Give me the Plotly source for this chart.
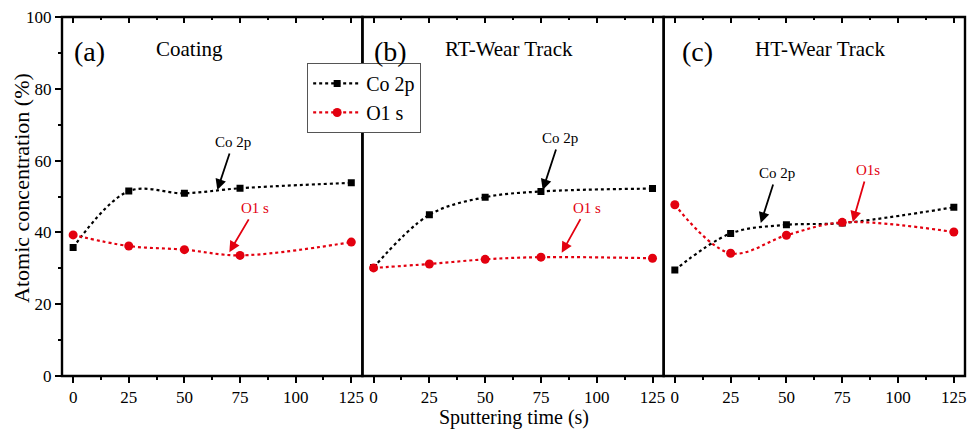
import plotly.graph_objects as go

# Sputtering times (s)
time_s = [0, 25, 50, 75, 125]

# Atomic concentration (%) per region
coating_co = [35.8, 51.5, 50.9, 52.3, 53.8]
coating_o = [39.3, 36.2, 35.2, 33.6, 37.3]
rt_co = [30.2, 44.9, 49.8, 51.4, 52.2]
rt_o = [30.1, 31.2, 32.5, 33.1, 32.8]
ht_co = [29.5, 39.7, 42.1, 42.6, 47.0]
ht_o = [47.7, 34.2, 39.2, 42.8, 40.1]

panel_tags = ["(a)", "(b)", "(c)"]
panel_titles = ["Coating", "RT-Wear Track", "HT-Wear Track"]
x_ticks = [0, 25, 50, 75, 100, 125]
y_ticks = [0, 20, 40, 60, 80, 100]

FONT = "Liberation Serif"
RED = "#e3000f"

domains = [[0.0, 0.3327], [0.3327, 0.6663], [0.6663, 1.0]]
panels = [(coating_co, coating_o), (rt_co, rt_o), (ht_co, ht_o)]

fig = go.Figure()

for i, (co, o) in enumerate(panels):
    xa = "x" if i == 0 else f"x{i + 1}"
    fig.add_trace(go.Scatter(
        x=time_s, y=co, xaxis=xa, yaxis="y", name="Co 2p",
        legendgroup="co", showlegend=(i == 0),
        mode="lines+markers", line=dict(color="black", width=2.2, dash="dot", shape="spline", smoothing=1.0),
        marker=dict(symbol="square", size=7, color="black"),
    ))
    fig.add_trace(go.Scatter(
        x=time_s, y=o, xaxis=xa, yaxis="y", name="O1 s",
        legendgroup="o", showlegend=(i == 0),
        mode="lines+markers", line=dict(color=RED, width=2.2, dash="dot", shape="spline", smoothing=1.0),
        marker=dict(symbol="circle", size=9, color=RED),
    ))
    # invisible trace so the top tick axis gets its own subplot
    fig.add_trace(go.Scatter(
        x=[None], y=[None], xaxis=f"x{i + 4}", yaxis="y", showlegend=False, hoverinfo="skip",
    ))

axis_common = dict(
    range=[-5, 130], tickvals=x_ticks, showgrid=False, zeroline=False, automargin=False,
    tickfont=dict(family=FONT, size=17, color="black"),
    ticklen=6, tickwidth=1.5, tickcolor="black",
    minor=dict(dtick=12.5, tick0=0, ticklen=3, tickwidth=1.5, tickcolor="black", ticks="outside"),
)

layout = dict(
    width=977, height=429,
    margin=dict(l=62, r=12, t=17, b=53),
    paper_bgcolor="white", plot_bgcolor="white",
    font=dict(family=FONT, color="black"),
    yaxis=dict(
        range=[0, 100], tickvals=y_ticks, showgrid=False, zeroline=False, automargin=False,
        ticks="outside", ticklen=6, tickwidth=1.5, tickcolor="black",
        minor=dict(dtick=10, tick0=0, ticklen=3, tickwidth=1.5, tickcolor="black", ticks="outside"),
        tickfont=dict(family=FONT, size=17, color="black"),
        showline=False, anchor="x",
    ),
    legend=dict(
        x=0.2715, y=0.872, xanchor="left", yanchor="top",
        bgcolor="white", bordercolor="#555555", borderwidth=1,
        font=dict(family=FONT, size=20, color="black"),
        itemwidth=48, tracegroupgap=0,
    ),
    showlegend=True,
)

for i in range(3):
    key = "xaxis" if i == 0 else f"xaxis{i + 1}"
    layout[key] = dict(axis_common, domain=domains[i], anchor="y", ticks="outside", side="bottom")
    top = dict(axis_common, anchor="y", ticks="inside", side="top", overlaying=("x" if i == 0 else f"x{i + 1}"),
               showticklabels=False)
    top["minor"] = dict(dtick=12.5, tick0=0, ticklen=3, tickwidth=1.5, tickcolor="black", ticks="inside")
    layout[f"xaxis{i + 4}"] = top

fig.update_layout(**layout)

# panel frames
for i in range(3):
    xr = "x" if i == 0 else f"x{i + 1}"
    fig.add_shape(type="rect", xref=f"{xr} domain", yref="y domain", x0=0, x1=1, y0=0, y1=1,
                  line=dict(color="black", width=2.4), layer="above")

annotations = []
tag_x = [0.093, 0.093, 0.113]
title_x = [0.423, 0.485, 0.52]
for i in range(3):
    xr = "x" if i == 0 else f"x{i + 1}"
    annotations.append(dict(xref=f"{xr} domain", yref="y domain", x=tag_x[i], y=0.905, xanchor="center",
                            yanchor="middle", text=panel_tags[i], showarrow=False,
                            font=dict(family=FONT, size=28, color="black")))
    annotations.append(dict(xref=f"{xr} domain", yref="y domain", x=title_x[i], y=0.91, xanchor="center",
                            yanchor="middle", text=panel_titles[i], showarrow=False,
                            font=dict(family=FONT, size=21, color="black")))

# curve labels with arrows: (axis, tip x, tip y, dx, dy, text, color)
labels = [
    ("x", 64.8, 51.8, 16, -48, "Co 2p", "black"),
    ("x", 70.2, 34.5, 26, -44, "O1 s", RED),
    ("x2", 75.8, 51.8, 17, -52, "Co 2p", "black"),
    ("x2", 84.3, 34.3, 25, -45, "O1 s", RED),
    ("x3", 38.5, 42.6, 16, -50, "Co 2p", "black"),
    ("x3", 79.7, 42.9, 15, -52, "O1s", RED),
]
for xr, tx, ty, dx, dy, txt, col in labels:
    annotations.append(dict(
        xref=xr, yref="y", x=tx, y=ty, ax=dx, ay=dy, text=txt, showarrow=True,
        arrowhead=2, arrowsize=1.2, arrowwidth=1.8, arrowcolor=col, standoff=0, startstandoff=2,
        font=dict(family=FONT, size=15, color=col),
    ))

# axis titles
annotations.append(dict(xref="paper", yref="paper", x=0.5, y=-0.116, xanchor="center", yanchor="middle",
                        text="Sputtering time (s)", showarrow=False,
                        font=dict(family=FONT, size=20, color="black")))
annotations.append(dict(xref="paper", yref="paper", x=-0.0443, y=0.524, xanchor="center", yanchor="middle",
                        textangle=-90, text="Atomic concentration (%)", showarrow=False,
                        font=dict(family=FONT, size=22, color="black")))

fig.update_layout(annotations=annotations)

fig.write_html("out.html")
